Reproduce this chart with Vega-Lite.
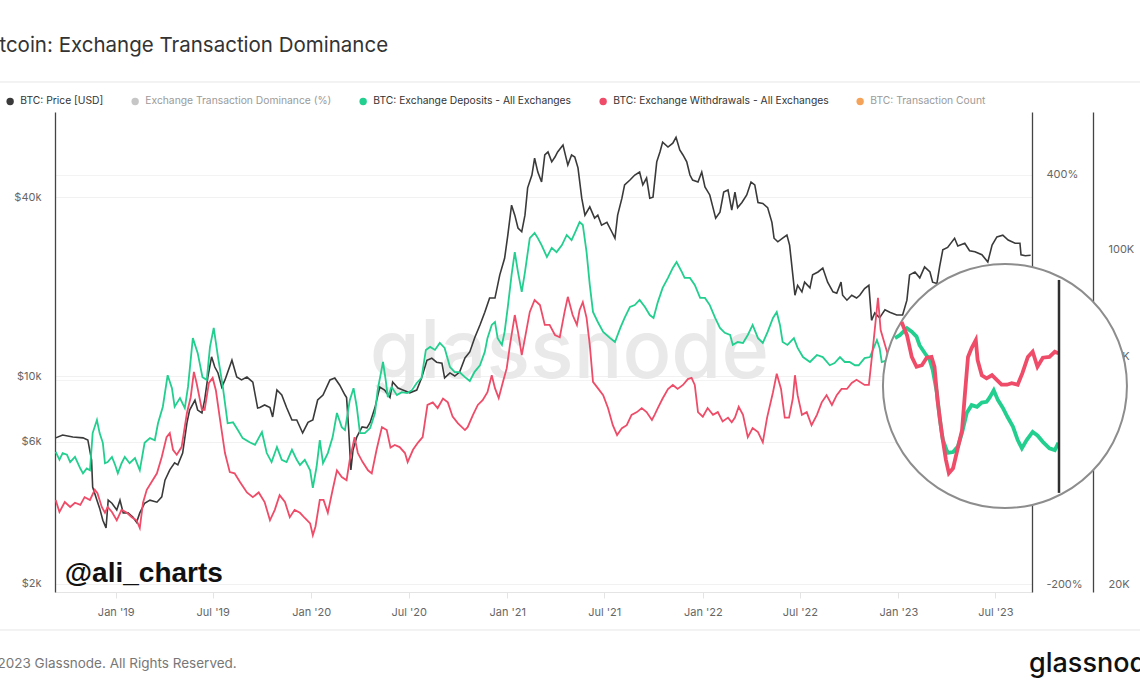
{
  "$schema": "https://vega.github.io/schema/vega-lite/v6.json",
  "width": 977,
  "height": 480,
  "autosize": "none",
  "padding": {"left": 55, "top": 112, "right": 108, "bottom": 102},
  "background": "white",
  "title": {"text": "Bitcoin: Exchange Transaction Dominance", "anchor": "start", "frame": "group", "font": "Inter", "fontSize": 20.5, "fontWeight": 400, "color": "#333333", "dx": -74, "offset": 25},
  "config": {"view": {"stroke": null}, "font": "Inter"},
  "datasets": {
    "price": [
      {"date":"2018-09-11","price":6190},{"date":"2018-09-24","price":6330},{"date":"2018-10-13","price":6230},{"date":"2018-11-01","price":6190},{"date":"2018-11-10","price":6090},{"date":"2018-11-17","price":5210},{"date":"2018-11-19","price":4230},{"date":"2018-11-27","price":3820},{"date":"2018-12-02","price":3590},{"date":"2018-12-08","price":3270},{"date":"2018-12-14","price":3080},{"date":"2018-12-18","price":3820},{"date":"2018-12-25","price":3730},{"date":"2019-01-03","price":3540},{"date":"2019-01-09","price":3820},{"date":"2019-01-15","price":3460},{"date":"2019-01-24","price":3460},{"date":"2019-02-02","price":3350},{"date":"2019-02-09","price":3220},{"date":"2019-02-15","price":3460},{"date":"2019-02-24","price":3730},{"date":"2019-03-06","price":3820},{"date":"2019-03-19","price":3760},{"date":"2019-03-28","price":3920},{"date":"2019-04-03","price":4460},{"date":"2019-04-12","price":4830},{"date":"2019-04-21","price":5100},{"date":"2019-04-27","price":5020},{"date":"2019-05-06","price":5500},{"date":"2019-05-14","price":6950},{"date":"2019-05-19","price":7680},{"date":"2019-05-29","price":8300},{"date":"2019-06-03","price":7680},{"date":"2019-06-11","price":7510},{"date":"2019-06-16","price":8300},{"date":"2019-06-22","price":9920},{"date":"2019-06-29","price":11600},{"date":"2019-07-05","price":10720},{"date":"2019-07-11","price":10240},{"date":"2019-07-18","price":9180},{"date":"2019-07-24","price":9700},{"date":"2019-08-06","price":11300},{"date":"2019-08-15","price":9920},{"date":"2019-08-24","price":9700},{"date":"2019-09-03","price":9920},{"date":"2019-09-14","price":9530},{"date":"2019-09-23","price":7800},{"date":"2019-09-27","price":7830},{"date":"2019-10-06","price":7990},{"date":"2019-10-16","price":7830},{"date":"2019-10-21","price":7280},{"date":"2019-10-29","price":8970},{"date":"2019-11-07","price":8630},{"date":"2019-11-16","price":7830},{"date":"2019-11-26","price":7110},{"date":"2019-12-05","price":7110},{"date":"2019-12-16","price":6430},{"date":"2019-12-26","price":6980},{"date":"2020-01-04","price":7110},{"date":"2020-01-13","price":8300},{"date":"2020-01-23","price":8630},{"date":"2020-02-05","price":9700},{"date":"2020-02-14","price":9850},{"date":"2020-02-23","price":9330},{"date":"2020-03-04","price":8630},{"date":"2020-03-07","price":8460},{"date":"2020-03-11","price":6580},{"date":"2020-03-15","price":4830},{"date":"2020-03-19","price":5630},{"date":"2020-03-26","price":6230},{"date":"2020-04-05","price":6740},{"date":"2020-04-14","price":6690},{"date":"2020-04-20","price":6980},{"date":"2020-04-29","price":7830},{"date":"2020-05-08","price":9180},{"date":"2020-05-17","price":8970},{"date":"2020-05-27","price":8460},{"date":"2020-06-01","price":9550},{"date":"2020-06-11","price":9110},{"date":"2020-06-20","price":8970},{"date":"2020-07-03","price":8780},{"date":"2020-07-16","price":8970},{"date":"2020-07-25","price":9850},{"date":"2020-08-04","price":11300},{"date":"2020-08-13","price":11480},{"date":"2020-08-22","price":11130},{"date":"2020-09-01","price":11050},{"date":"2020-09-06","price":9850},{"date":"2020-09-16","price":10240},{"date":"2020-09-25","price":10000},{"date":"2020-10-04","price":10310},{"date":"2020-10-14","price":11500},{"date":"2020-10-23","price":12050},{"date":"2020-11-01","price":13420},{"date":"2020-11-11","price":14850},{"date":"2020-11-20","price":16400},{"date":"2020-11-29","price":18300},{"date":"2020-12-09","price":18300},{"date":"2020-12-18","price":21900},{"date":"2020-12-27","price":24900},{"date":"2021-01-02","price":29800},{"date":"2021-01-09","price":37600},{"date":"2021-01-15","price":34800},{"date":"2021-01-21","price":31500},{"date":"2021-01-28","price":30600},{"date":"2021-02-03","price":34800},{"date":"2021-02-08","price":43000},{"date":"2021-02-16","price":47500},{"date":"2021-02-21","price":54100},{"date":"2021-02-27","price":48600},{"date":"2021-03-06","price":45000},{"date":"2021-03-12","price":55500},{"date":"2021-03-18","price":56800},{"date":"2021-03-25","price":52600},{"date":"2021-03-31","price":54600},{"date":"2021-04-05","price":56800},{"date":"2021-04-15","price":59900},{"date":"2021-04-24","price":51300},{"date":"2021-05-01","price":55500},{"date":"2021-05-07","price":54600},{"date":"2021-05-13","price":50200},{"date":"2021-05-20","price":39700},{"date":"2021-05-26","price":34800},{"date":"2021-06-04","price":37100},{"date":"2021-06-13","price":34000},{"date":"2021-06-19","price":34800},{"date":"2021-06-26","price":32200},{"date":"2021-07-06","price":32900},{"date":"2021-07-15","price":30600},{"date":"2021-07-21","price":29100},{"date":"2021-07-26","price":34800},{"date":"2021-08-03","price":39700},{"date":"2021-08-08","price":44000},{"date":"2021-08-18","price":45700},{"date":"2021-08-27","price":47500},{"date":"2021-09-05","price":48600},{"date":"2021-09-11","price":44000},{"date":"2021-09-18","price":46400},{"date":"2021-09-24","price":39700},{"date":"2021-09-30","price":40000},{"date":"2021-10-07","price":52600},{"date":"2021-10-13","price":56800},{"date":"2021-10-18","price":61300},{"date":"2021-10-28","price":59000},{"date":"2021-11-06","price":60800},{"date":"2021-11-12","price":63600},{"date":"2021-11-19","price":57700},{"date":"2021-11-25","price":55500},{"date":"2021-12-02","price":52600},{"date":"2021-12-08","price":47500},{"date":"2021-12-13","price":45700},{"date":"2021-12-23","price":45000},{"date":"2021-12-30","price":48600},{"date":"2022-01-05","price":43300},{"date":"2022-01-14","price":40700},{"date":"2022-01-20","price":36900},{"date":"2022-01-25","price":34000},{"date":"2022-02-02","price":35600},{"date":"2022-02-09","price":41600},{"date":"2022-02-17","price":42300},{"date":"2022-02-24","price":36200},{"date":"2022-03-02","price":41600},{"date":"2022-03-07","price":36900},{"date":"2022-03-15","price":38400},{"date":"2022-03-24","price":40700},{"date":"2022-04-01","price":45000},{"date":"2022-04-08","price":44000},{"date":"2022-04-14","price":38400},{"date":"2022-04-23","price":38100},{"date":"2022-05-02","price":36900},{"date":"2022-05-10","price":32900},{"date":"2022-05-14","price":29100},{"date":"2022-05-21","price":28300},{"date":"2022-05-30","price":29100},{"date":"2022-06-07","price":29800},{"date":"2022-06-12","price":27600},{"date":"2022-06-18","price":21900},{"date":"2022-06-22","price":18700},{"date":"2022-06-27","price":20200},{"date":"2022-07-05","price":19200},{"date":"2022-07-10","price":20700},{"date":"2022-07-20","price":19800},{"date":"2022-07-25","price":21900},{"date":"2022-08-04","price":22400},{"date":"2022-08-13","price":23100},{"date":"2022-08-22","price":20700},{"date":"2022-09-01","price":19200},{"date":"2022-09-08","price":19000},{"date":"2022-09-16","price":20700},{"date":"2022-09-19","price":18700},{"date":"2022-09-27","price":18000},{"date":"2022-10-06","price":18700},{"date":"2022-10-15","price":18300},{"date":"2022-10-21","price":18700},{"date":"2022-10-30","price":19700},{"date":"2022-11-07","price":20200},{"date":"2022-11-12","price":15400},{"date":"2022-11-18","price":16300},{"date":"2022-11-27","price":15700},{"date":"2022-12-07","price":16700},{"date":"2022-12-16","price":16400},{"date":"2022-12-29","price":16050},{"date":"2023-01-09","price":16050},{"date":"2023-01-17","price":18000},{"date":"2023-01-22","price":21900},{"date":"2023-02-01","price":22400},{"date":"2023-02-10","price":21400},{"date":"2023-02-19","price":23300},{"date":"2023-03-01","price":22400},{"date":"2023-03-06","price":20700},{"date":"2023-03-14","price":20500},{"date":"2023-03-19","price":23300},{"date":"2023-03-25","price":26600},{"date":"2023-04-03","price":27100},{"date":"2023-04-16","price":29100},{"date":"2023-04-22","price":27400},{"date":"2023-05-05","price":28000},{"date":"2023-05-14","price":26400},{"date":"2023-05-24","price":26200},{"date":"2023-06-06","price":25600},{"date":"2023-06-17","price":24200},{"date":"2023-06-25","price":27600},{"date":"2023-07-04","price":29400},{"date":"2023-07-15","price":29800},{"date":"2023-07-25","price":28700},{"date":"2023-08-07","price":28000},{"date":"2023-08-16","price":28000},{"date":"2023-08-18","price":25600},{"date":"2023-08-26","price":25400},{"date":"2023-09-05","price":25500}
    ],
    "deposits": [
      {"date":"2018-09-11","count":37800},{"date":"2018-09-18","count":36400},{"date":"2018-09-24","count":37600},{"date":"2018-10-02","count":37300},{"date":"2018-10-08","count":36000},{"date":"2018-10-17","count":36900},{"date":"2018-10-27","count":34900},{"date":"2018-11-01","count":34100},{"date":"2018-11-08","count":34900},{"date":"2018-11-14","count":34600},{"date":"2018-11-19","count":41400},{"date":"2018-11-27","count":44100},{"date":"2018-12-02","count":41400},{"date":"2018-12-08","count":39500},{"date":"2018-12-12","count":35800},{"date":"2018-12-17","count":36000},{"date":"2018-12-25","count":36900},{"date":"2018-12-31","count":35500},{"date":"2019-01-05","count":34100},{"date":"2019-01-12","count":35800},{"date":"2019-01-18","count":36900},{"date":"2019-01-27","count":35800},{"date":"2019-02-06","count":36700},{"date":"2019-02-15","count":34600},{"date":"2019-02-24","count":39500},{"date":"2019-03-06","count":40400},{"date":"2019-03-15","count":40000},{"date":"2019-03-21","count":43400},{"date":"2019-03-30","count":47000},{"date":"2019-04-08","count":54700},{"date":"2019-04-16","count":51400},{"date":"2019-04-21","count":47000},{"date":"2019-05-01","count":49000},{"date":"2019-05-10","count":46700},{"date":"2019-05-16","count":51700},{"date":"2019-05-25","count":65400},{"date":"2019-06-03","count":60900},{"date":"2019-06-12","count":54200},{"date":"2019-06-20","count":53500},{"date":"2019-06-26","count":62700},{"date":"2019-07-03","count":68700},{"date":"2019-07-11","count":59700},{"date":"2019-07-20","count":51700},{"date":"2019-07-29","count":43400},{"date":"2019-08-08","count":43600},{"date":"2019-08-17","count":42000},{"date":"2019-08-26","count":40400},{"date":"2019-09-08","count":39600},{"date":"2019-09-18","count":39100},{"date":"2019-10-01","count":41600},{"date":"2019-10-10","count":37600},{"date":"2019-10-19","count":36000},{"date":"2019-10-29","count":38700},{"date":"2019-11-07","count":36400},{"date":"2019-11-16","count":36000},{"date":"2019-11-26","count":38200},{"date":"2019-12-05","count":36400},{"date":"2019-12-11","count":35500},{"date":"2019-12-20","count":36400},{"date":"2019-12-30","count":34600},{"date":"2020-01-04","count":31800},{"date":"2020-01-11","count":35200},{"date":"2020-01-17","count":40000},{"date":"2020-01-23","count":35800},{"date":"2020-02-01","count":37600},{"date":"2020-02-10","count":40600},{"date":"2020-02-18","count":45600},{"date":"2020-02-27","count":42600},{"date":"2020-03-04","count":42000},{"date":"2020-03-13","count":48500},{"date":"2020-03-20","count":51400},{"date":"2020-03-26","count":47000},{"date":"2020-04-01","count":41400},{"date":"2020-04-10","count":41400},{"date":"2020-04-20","count":42400},{"date":"2020-04-29","count":45600},{"date":"2020-05-04","count":50900},{"date":"2020-05-14","count":58300},{"date":"2020-05-19","count":53500},{"date":"2020-05-23","count":49200},{"date":"2020-05-30","count":51700},{"date":"2020-06-09","count":49700},{"date":"2020-06-18","count":50400},{"date":"2020-06-28","count":50200},{"date":"2020-07-07","count":50900},{"date":"2020-07-16","count":52700},{"date":"2020-07-25","count":54000},{"date":"2020-08-02","count":61800},{"date":"2020-08-10","count":62700},{"date":"2020-08-19","count":61800},{"date":"2020-08-28","count":63900},{"date":"2020-09-06","count":62400},{"date":"2020-09-16","count":56900},{"date":"2020-09-25","count":55500},{"date":"2020-10-04","count":55500},{"date":"2020-10-14","count":54200},{"date":"2020-10-23","count":53200},{"date":"2020-11-01","count":55600},{"date":"2020-11-11","count":57400},{"date":"2020-11-20","count":61200},{"date":"2020-11-25","count":65400},{"date":"2020-12-03","count":69700},{"date":"2020-12-09","count":70700},{"date":"2020-12-14","count":65400},{"date":"2020-12-22","count":63300},{"date":"2020-12-27","count":67400},{"date":"2021-01-02","count":76000},{"date":"2021-01-09","count":88700},{"date":"2021-01-15","count":99000},{"date":"2021-01-21","count":89900},{"date":"2021-01-28","count":81700},{"date":"2021-02-03","count":89900},{"date":"2021-02-12","count":105900},{"date":"2021-02-21","count":108500},{"date":"2021-02-27","count":105900},{"date":"2021-03-06","count":102400},{"date":"2021-03-16","count":96700},{"date":"2021-03-25","count":101000},{"date":"2021-04-03","count":99000},{"date":"2021-04-13","count":102400},{"date":"2021-04-22","count":107500},{"date":"2021-05-01","count":104900},{"date":"2021-05-07","count":108500},{"date":"2021-05-16","count":114400},{"date":"2021-05-22","count":112800},{"date":"2021-05-29","count":99000},{"date":"2021-06-04","count":84500},{"date":"2021-06-10","count":74200},{"date":"2021-06-19","count":70700},{"date":"2021-06-29","count":67400},{"date":"2021-07-12","count":65400},{"date":"2021-07-21","count":64200},{"date":"2021-07-31","count":68700},{"date":"2021-08-08","count":72100},{"date":"2021-08-18","count":76000},{"date":"2021-08-27","count":76700},{"date":"2021-09-05","count":78600},{"date":"2021-09-15","count":76000},{"date":"2021-09-24","count":73100},{"date":"2021-10-01","count":72100},{"date":"2021-10-09","count":77800},{"date":"2021-10-18","count":83300},{"date":"2021-10-28","count":87400},{"date":"2021-11-06","count":91700},{"date":"2021-11-13","count":94400},{"date":"2021-11-23","count":89900},{"date":"2021-11-28","count":87400},{"date":"2021-12-08","count":87400},{"date":"2021-12-17","count":84500},{"date":"2021-12-27","count":79400},{"date":"2022-01-05","count":79400},{"date":"2022-01-14","count":76700},{"date":"2022-01-24","count":72100},{"date":"2022-02-02","count":68700},{"date":"2022-02-11","count":67100},{"date":"2022-02-21","count":66400},{"date":"2022-02-26","count":63300},{"date":"2022-03-07","count":64200},{"date":"2022-03-17","count":63900},{"date":"2022-03-26","count":66400},{"date":"2022-04-04","count":69700},{"date":"2022-04-14","count":65400},{"date":"2022-04-23","count":63900},{"date":"2022-05-02","count":67400},{"date":"2022-05-12","count":72100},{"date":"2022-05-19","count":74200},{"date":"2022-05-25","count":69700},{"date":"2022-05-30","count":64200},{"date":"2022-06-08","count":63300},{"date":"2022-06-20","count":65400},{"date":"2022-06-27","count":62400},{"date":"2022-07-07","count":59700},{"date":"2022-07-20","count":58300},{"date":"2022-08-02","count":60300},{"date":"2022-08-13","count":59700},{"date":"2022-08-26","count":57400},{"date":"2022-09-04","count":58000},{"date":"2022-09-14","count":59700},{"date":"2022-09-23","count":58300},{"date":"2022-10-02","count":58300},{"date":"2022-10-12","count":57400},{"date":"2022-10-19","count":57400},{"date":"2022-10-30","count":59400},{"date":"2022-11-09","count":59700},{"date":"2022-11-22","count":64800},{"date":"2022-11-27","count":62400},{"date":"2022-12-01","count":58300},{"date":"2022-12-09","count":58700},{"date":"2022-12-21","count":59700},{"date":"2022-12-29","count":59200},{"date":"2023-01-06","count":58500},{"date":"2023-01-11","count":57300},{"date":"2023-01-20","count":56200},{"date":"2023-01-28","count":55300},{"date":"2023-02-02","count":54000},{"date":"2023-02-09","count":51100},{"date":"2023-02-14","count":47900},{"date":"2023-02-19","count":45600},{"date":"2023-02-27","count":44200},{"date":"2023-03-08","count":44300},{"date":"2023-03-16","count":44900},{"date":"2023-03-23","count":46400},{"date":"2023-03-31","count":48700},{"date":"2023-04-08","count":49600},{"date":"2023-04-17","count":49400},{"date":"2023-04-25","count":49900},{"date":"2023-05-03","count":50000},{"date":"2023-05-08","count":50500},{"date":"2023-05-15","count":51400},{"date":"2023-05-22","count":50200},{"date":"2023-05-30","count":49300},{"date":"2023-06-07","count":48200},{"date":"2023-06-16","count":47100},{"date":"2023-06-24","count":45600},{"date":"2023-07-01","count":44700},{"date":"2023-07-09","count":45600},{"date":"2023-07-19","count":46500},{"date":"2023-07-27","count":46100},{"date":"2023-08-05","count":45400},{"date":"2023-08-16","count":44700},{"date":"2023-08-25","count":44500},{"date":"2023-08-31","count":45300}
    ],
    "withdrawals": [
      {"date":"2018-09-11","count":30000},{"date":"2018-09-18","count":28300},{"date":"2018-09-28","count":29700},{"date":"2018-10-08","count":29000},{"date":"2018-10-17","count":29600},{"date":"2018-10-27","count":29300},{"date":"2018-11-04","count":30400},{"date":"2018-11-14","count":30000},{"date":"2018-11-23","count":31500},{"date":"2018-11-28","count":31000},{"date":"2018-12-06","count":29000},{"date":"2018-12-12","count":28200},{"date":"2018-12-17","count":29000},{"date":"2018-12-25","count":28300},{"date":"2019-01-03","count":27200},{"date":"2019-01-12","count":28600},{"date":"2019-01-22","count":28200},{"date":"2019-01-31","count":27600},{"date":"2019-02-09","count":27200},{"date":"2019-02-15","count":26200},{"date":"2019-02-21","count":29600},{"date":"2019-02-28","count":31500},{"date":"2019-03-09","count":32700},{"date":"2019-03-19","count":34100},{"date":"2019-03-28","count":36900},{"date":"2019-04-06","count":40600},{"date":"2019-04-12","count":41400},{"date":"2019-04-18","count":38200},{"date":"2019-04-25","count":37300},{"date":"2019-05-04","count":38700},{"date":"2019-05-14","count":45600},{"date":"2019-05-21","count":49200},{"date":"2019-05-27","count":55600},{"date":"2019-06-01","count":52700},{"date":"2019-06-11","count":46300},{"date":"2019-06-16","count":46300},{"date":"2019-06-24","count":52700},{"date":"2019-07-01","count":54000},{"date":"2019-07-07","count":50900},{"date":"2019-07-14","count":44800},{"date":"2019-07-24","count":37600},{"date":"2019-08-02","count":34300},{"date":"2019-08-11","count":34100},{"date":"2019-08-21","count":32700},{"date":"2019-09-03","count":31100},{"date":"2019-09-14","count":30400},{"date":"2019-09-25","count":31100},{"date":"2019-10-06","count":29700},{"date":"2019-10-16","count":27200},{"date":"2019-10-25","count":28600},{"date":"2019-11-03","count":30700},{"date":"2019-11-13","count":29700},{"date":"2019-11-22","count":27600},{"date":"2019-12-01","count":28600},{"date":"2019-12-11","count":28200},{"date":"2019-12-20","count":27500},{"date":"2019-12-30","count":26800},{"date":"2020-01-04","count":25300},{"date":"2020-01-09","count":26400},{"date":"2020-01-17","count":30000},{"date":"2020-01-24","count":30000},{"date":"2020-02-01","count":28200},{"date":"2020-02-10","count":31500},{"date":"2020-02-18","count":34600},{"date":"2020-02-27","count":33500},{"date":"2020-03-07","count":33000},{"date":"2020-03-13","count":36400},{"date":"2020-03-22","count":40600},{"date":"2020-03-28","count":37600},{"date":"2020-04-06","count":36000},{"date":"2020-04-16","count":34600},{"date":"2020-04-23","count":34100},{"date":"2020-05-02","count":38200},{"date":"2020-05-12","count":42600},{"date":"2020-05-21","count":42000},{"date":"2020-05-28","count":38600},{"date":"2020-06-05","count":39100},{"date":"2020-06-14","count":38700},{"date":"2020-06-24","count":37600},{"date":"2020-06-29","count":36000},{"date":"2020-07-09","count":38200},{"date":"2020-07-18","count":39500},{"date":"2020-07-27","count":40600},{"date":"2020-08-05","count":47400},{"date":"2020-08-15","count":48000},{"date":"2020-08-24","count":46700},{"date":"2020-09-03","count":48900},{"date":"2020-09-12","count":48000},{"date":"2020-09-21","count":44800},{"date":"2020-10-01","count":43400},{"date":"2020-10-14","count":42000},{"date":"2020-10-19","count":42600},{"date":"2020-10-29","count":45200},{"date":"2020-11-07","count":47400},{"date":"2020-11-16","count":48500},{"date":"2020-11-25","count":50400},{"date":"2020-12-03","count":54700},{"date":"2020-12-09","count":51400},{"date":"2020-12-16","count":49000},{"date":"2020-12-24","count":53000},{"date":"2020-12-31","count":56600},{"date":"2021-01-06","count":63300},{"date":"2021-01-15","count":73100},{"date":"2021-01-21","count":67400},{"date":"2021-01-28","count":60300},{"date":"2021-02-03","count":65400},{"date":"2021-02-12","count":74200},{"date":"2021-02-21","count":78600},{"date":"2021-03-03","count":76700},{"date":"2021-03-12","count":69700},{"date":"2021-03-21","count":69700},{"date":"2021-03-31","count":66400},{"date":"2021-04-09","count":65700},{"date":"2021-04-18","count":74200},{"date":"2021-04-24","count":79800},{"date":"2021-05-03","count":73100},{"date":"2021-05-11","count":69700},{"date":"2021-05-16","count":74900},{"date":"2021-05-22","count":77800},{"date":"2021-05-29","count":72100},{"date":"2021-06-04","count":63300},{"date":"2021-06-10","count":53000},{"date":"2021-06-19","count":51400},{"date":"2021-06-29","count":49700},{"date":"2021-07-08","count":46700},{"date":"2021-07-17","count":43000},{"date":"2021-07-25","count":41000},{"date":"2021-08-03","count":42400},{"date":"2021-08-12","count":43000},{"date":"2021-08-21","count":45200},{"date":"2021-08-31","count":45800},{"date":"2021-09-09","count":46700},{"date":"2021-09-18","count":45800},{"date":"2021-09-28","count":44100},{"date":"2021-10-03","count":45200},{"date":"2021-10-09","count":46700},{"date":"2021-10-18","count":48900},{"date":"2021-10-28","count":51200},{"date":"2021-11-06","count":52200},{"date":"2021-11-15","count":51200},{"date":"2021-11-25","count":52200},{"date":"2021-12-04","count":53700},{"date":"2021-12-11","count":54000},{"date":"2021-12-17","count":52200},{"date":"2021-12-23","count":45800},{"date":"2022-01-01","count":44800},{"date":"2022-01-10","count":46700},{"date":"2022-01-20","count":45200},{"date":"2022-01-29","count":45800},{"date":"2022-02-07","count":43800},{"date":"2022-02-17","count":44600},{"date":"2022-02-24","count":43600},{"date":"2022-03-02","count":44600},{"date":"2022-03-09","count":47000},{"date":"2022-03-17","count":45200},{"date":"2022-03-26","count":40600},{"date":"2022-04-04","count":42400},{"date":"2022-04-14","count":41600},{"date":"2022-04-23","count":39600},{"date":"2022-05-01","count":44600},{"date":"2022-05-12","count":50400},{"date":"2022-05-19","count":55100},{"date":"2022-05-27","count":51200},{"date":"2022-06-03","count":44600},{"date":"2022-06-11","count":44600},{"date":"2022-06-18","count":48900},{"date":"2022-06-22","count":54700},{"date":"2022-06-27","count":49700},{"date":"2022-07-05","count":45200},{"date":"2022-07-14","count":45800},{"date":"2022-07-23","count":43000},{"date":"2022-08-02","count":45200},{"date":"2022-08-11","count":48000},{"date":"2022-08-20","count":49700},{"date":"2022-08-30","count":47400},{"date":"2022-09-08","count":49700},{"date":"2022-09-17","count":51200},{"date":"2022-09-27","count":51200},{"date":"2022-10-06","count":52700},{"date":"2022-10-15","count":53500},{"date":"2022-10-30","count":52200},{"date":"2022-11-07","count":52200},{"date":"2022-11-16","count":64800},{"date":"2022-11-24","count":79400},{"date":"2022-11-29","count":68000},{"date":"2022-12-12","count":60600},{"date":"2022-12-21","count":58700},{"date":"2022-12-29","count":55700},{"date":"2023-01-06","count":54400},{"date":"2023-01-15","count":54600},{"date":"2023-01-23","count":55600},{"date":"2023-01-31","count":55700},{"date":"2023-02-05","count":54400},{"date":"2023-02-10","count":50200},{"date":"2023-02-17","count":46400},{"date":"2023-02-24","count":43500},{"date":"2023-03-01","count":42100},{"date":"2023-03-08","count":42600},{"date":"2023-03-14","count":44200},{"date":"2023-03-23","count":46700},{"date":"2023-03-28","count":51100},{"date":"2023-04-02","count":55700},{"date":"2023-04-08","count":56900},{"date":"2023-04-15","count":58000},{"date":"2023-04-18","count":55300},{"date":"2023-04-25","count":53300},{"date":"2023-05-03","count":52900},{"date":"2023-05-12","count":53300},{"date":"2023-05-20","count":52700},{"date":"2023-05-28","count":52100},{"date":"2023-06-06","count":52100},{"date":"2023-06-14","count":52300},{"date":"2023-06-24","count":52100},{"date":"2023-07-02","count":53600},{"date":"2023-07-11","count":55700},{"date":"2023-07-19","count":56400},{"date":"2023-07-27","count":54400},{"date":"2023-08-05","count":55600},{"date":"2023-08-16","count":55700},{"date":"2023-08-25","count":56400},{"date":"2023-08-31","count":56200}
    ]
  },
  "layer": [
    {
      "data": {"values": []},
      "mark": {"type": "line"},
      "encoding": {
        "x": {"field": "date", "type": "temporal", "scale": {"domain": [{"year": 2018, "month": 9, "date": 9, "hours": 17, "utc": true}, {"year": 2023, "month": 9, "date": 7, "hours": 12, "utc": true}]}, "axis": null},
        "y": {"field": "dominance", "type": "quantitative", "scale": {"domain": [-211.7, 492.4], "nice": false, "zero": false}, "axis": {"orient": "right", "title": null, "values": [-200, 100, 400], "labelExpr": "datum.value + '%'", "ticks": false, "labelPadding": 14, "labelAlign": "left", "labelFont": "Inter", "labelFontSize": 11, "labelColor": "#666666", "domain": true, "domainColor": "#444444", "domainWidth": 1.3, "grid": true, "gridColor": "#f3f3f3"}},
        "color": {"datum": "Exchange Transaction Dominance (%)", "type": "nominal",
          "scale": {"domain": ["BTC: Price [USD]", "Exchange Transaction Dominance (%)", "BTC: Exchange Deposits - All Exchanges", "BTC: Exchange Withdrawals - All Exchanges", "BTC: Transaction Count"], "range": ["#3a3a3a", "#c6c6c6", "#22cf8f", "#ee4c68", "#f6a35a"]},
          "legend": {"title": null, "orient": "none", "legendX": -50, "legendY": -16, "direction": "horizontal", "symbolType": "circle", "symbolSize": 55, "symbolStrokeWidth": 0, "labelFont": "Inter", "labelFontSize": 10.3, "labelColor": "#333333", "labelOffset": 5, "columnPadding": 26, "labelLimit": 400,
            "encode": {"symbols": {"update": {"fill": {"scale": "color", "field": "value"}, "opacity": {"value": 1}}}, "labels": {"update": {"fill": {"signal": "(datum.value == 'Exchange Transaction Dominance (%)' || datum.value == 'BTC: Transaction Count') ? '#9a9a9a' : '#333333'"}}}}}}
      }
    },
    {
      "data": {"values": [{}]},
      "mark": {"type": "text", "text": "glassnode", "font": "Inter", "fontSize": 81, "fontWeight": 500, "color": "#e9e9e9", "align": "center", "baseline": "alphabetic"},
      "encoding": {
        "x": {"datum": {"year": 2021, "month": 4, "date": 27, "utc": true}, "type": "temporal", "scale": {"domain": [{"year": 2018, "month": 9, "date": 9, "hours": 17, "utc": true}, {"year": 2023, "month": 9, "date": 7, "hours": 12, "utc": true}]}, "axis": null},
        "y": {"datum": 9850, "type": "quantitative", "scale": {"type": "log", "domain": [1874, 77426], "nice": false}, "axis": null}
      }
    },
    {
      "data": {"name": "price"},
      "mark": {"type": "line", "strokeWidth": 1.6},
      "encoding": {
        "x": {"field": "date", "type": "temporal", "scale": {"domain": [{"year": 2018, "month": 9, "date": 9, "hours": 17, "utc": true}, {"year": 2023, "month": 9, "date": 7, "hours": 12, "utc": true}]},
          "axis": {"title": null, "format": "%b '%y", "tickCount": {"interval": "month", "step": 6}, "labelFont": "Inter", "labelFontSize": 11, "labelColor": "#666666", "domainColor": "#e4e4e4", "tickColor": "#e4e4e4", "tickSize": 6, "labelPadding": 8, "grid": false, "labelFlush": false}},
        "y": {"field": "price", "type": "quantitative", "scale": {"type": "log", "domain": [1874, 77426], "nice": false},
          "axis": {"orient": "left", "title": null, "values": [2000, 6000, 10000, 40000], "format": "$~s", "ticks": false, "labelPadding": 14, "labelFont": "Inter", "labelFontSize": 11, "labelColor": "#666666", "domainColor": "#444444", "domainWidth": 1.3, "grid": true, "gridColor": "#f1f1f1"}},
        "color": {"datum": "BTC: Price [USD]", "type": "nominal"}
      }
    },
    {
      "data": {"name": "deposits"},
      "mark": {"type": "line", "strokeWidth": 1.8},
      "encoding": {
        "x": {"field": "date", "type": "temporal", "scale": {"domain": [{"year": 2018, "month": 9, "date": 9, "hours": 17, "utc": true}, {"year": 2023, "month": 9, "date": 7, "hours": 12, "utc": true}]}, "axis": null},
        "y": {"field": "count", "type": "quantitative", "scale": {"type": "log", "domain": [19253, 194400], "nice": false},
          "axis": {"orient": "right", "offset": 61, "title": null, "values": [20000, 60000, 100000], "labelExpr": "format(datum.value / 1000, 'd') + 'K'", "ticks": false, "labelPadding": 15, "labelAlign": "left", "labelFont": "Inter", "labelFontSize": 11, "labelColor": "#666666", "domainColor": "#444444", "domainWidth": 1.3, "grid": false}},
        "color": {"datum": "BTC: Exchange Deposits - All Exchanges", "type": "nominal"}
      }
    },
    {
      "data": {"name": "withdrawals"},
      "mark": {"type": "line", "strokeWidth": 1.8},
      "encoding": {
        "x": {"field": "date", "type": "temporal", "scale": {"domain": [{"year": 2018, "month": 9, "date": 9, "hours": 17, "utc": true}, {"year": 2023, "month": 9, "date": 7, "hours": 12, "utc": true}]}, "axis": null},
        "y": {"field": "count", "type": "quantitative", "scale": {"type": "log", "domain": [19253, 194400], "nice": false}, "axis": null},
        "color": {"datum": "BTC: Exchange Withdrawals - All Exchanges", "type": "nominal"}
      }
    },
    {
      "data": {"values": [{}]},
      "mark": {"type": "text", "text": "@ali_charts", "font": "Liberation Sans", "fontSize": 28, "fontWeight": "bold", "color": "#111111", "align": "left", "baseline": "alphabetic"},
      "encoding": {
        "x": {"datum": {"year": 2018, "month": 9, "date": 28, "utc": true}, "type": "temporal", "scale": {"domain": [{"year": 2018, "month": 9, "date": 9, "hours": 17, "utc": true}, {"year": 2023, "month": 9, "date": 7, "hours": 12, "utc": true}]}, "axis": null},
        "y": {"datum": 2025, "type": "quantitative", "scale": {"type": "log", "domain": [1874, 77426], "nice": false}, "axis": null}
      }
    },
    {
      "data": {"values": [{}]},
      "mark": {"type": "point", "shape": "circle", "size": 59536, "filled": true, "fill": "#ffffff", "fillOpacity": 1, "opacity": 1, "stroke": "#8d8d8d", "strokeWidth": 2},
      "encoding": {
        "x": {"datum": {"year": 2023, "month": 7, "date": 19, "utc": true}, "type": "temporal", "scale": {"domain": [{"year": 2018, "month": 9, "date": 9, "hours": 17, "utc": true}, {"year": 2023, "month": 9, "date": 7, "hours": 12, "utc": true}]}, "axis": null},
        "y": {"datum": 9254, "type": "quantitative", "scale": {"type": "log", "domain": [1874, 77426], "nice": false}, "axis": null}
      }
    },
    {
      "data": {"name": "deposits"},
      "transform": [{"filter": "time(datum.date) >= time('2022-12-01')"}],
      "mark": {"type": "line", "strokeWidth": 3.8},
      "encoding": {
        "x": {"field": "date", "type": "temporal", "scale": {"domain": [{"year": 2019, "month": 1, "date": 27, "hours": 14, "minutes": 24, "utc": true}, {"year": 2023, "month": 7, "date": 17, "hours": 21, "minutes": 36, "utc": true}]}, "axis": null},
        "y": {"field": "count", "type": "quantitative", "scale": {"type": "log", "domain": [31623, 100480], "nice": false}, "axis": null},
        "color": {"datum": "BTC: Exchange Deposits - All Exchanges", "type": "nominal"}
      }
    },
    {
      "data": {"name": "withdrawals"},
      "transform": [{"filter": "time(datum.date) >= time('2022-12-12')"}],
      "mark": {"type": "line", "strokeWidth": 3.8},
      "encoding": {
        "x": {"field": "date", "type": "temporal", "scale": {"domain": [{"year": 2019, "month": 1, "date": 27, "hours": 14, "minutes": 24, "utc": true}, {"year": 2023, "month": 7, "date": 17, "hours": 21, "minutes": 36, "utc": true}]}, "axis": null},
        "y": {"field": "count", "type": "quantitative", "scale": {"type": "log", "domain": [31623, 100480], "nice": false}, "axis": null},
        "color": {"datum": "BTC: Exchange Withdrawals - All Exchanges", "type": "nominal"}
      }
    },
    {
      "data": {"values": [{}]},
      "mark": {"type": "rule", "color": "#2f2f2f", "strokeWidth": 2.5},
      "encoding": {
        "x": {"datum": {"year": 2023, "month": 9, "date": 1, "utc": true}, "type": "temporal", "scale": {"domain": [{"year": 2019, "month": 1, "date": 27, "hours": 14, "minutes": 24, "utc": true}, {"year": 2023, "month": 7, "date": 17, "hours": 21, "minutes": 36, "utc": true}]}, "axis": null},
        "y": {"datum": 67050, "type": "quantitative", "scale": {"type": "log", "domain": [31623, 100480], "nice": false}, "axis": null},
        "y2": {"datum": 40150}
      }
    },
    {
      "data": {"values": [{}]},
      "mark": {"type": "text", "text": "© 2023 Glassnode. All Rights Reserved.", "font": "Inter", "fontSize": 13.5, "color": "#777777", "align": "right", "baseline": "alphabetic"},
      "encoding": {
        "x": {"datum": {"year": 2019, "month": 8, "date": 15, "utc": true}, "type": "temporal", "scale": {"domain": [{"year": 2018, "month": 9, "date": 9, "hours": 17, "utc": true}, {"year": 2023, "month": 9, "date": 7, "hours": 12, "utc": true}]}, "axis": null},
        "y": {"datum": 1039, "type": "quantitative", "scale": {"type": "log", "domain": [1874, 77426], "nice": false}, "axis": null}
      }
    },
    {
      "data": {"values": [{}]},
      "mark": {"type": "text", "text": "glassnode", "font": "Inter", "fontSize": 27, "fontWeight": 500, "color": "#111111", "align": "left", "baseline": "alphabetic"},
      "encoding": {
        "x": {"datum": {"year": 2023, "month": 9, "date": 1, "hours": 22, "utc": true}, "type": "temporal", "scale": {"domain": [{"year": 2018, "month": 9, "date": 9, "hours": 17, "utc": true}, {"year": 2023, "month": 9, "date": 7, "hours": 12, "utc": true}]}, "axis": null},
        "y": {"datum": 1008, "type": "quantitative", "scale": {"type": "log", "domain": [1874, 77426], "nice": false}, "axis": null}
      }
    },
    {
      "data": {"values": [{}]},
      "mark": {"type": "rule", "color": "#e6e6e6", "strokeWidth": 1},
      "encoding": {
        "x": {"datum": {"year": 2018, "month": 5, "date": 30, "utc": true}, "type": "temporal", "scale": {"domain": [{"year": 2018, "month": 9, "date": 9, "hours": 17, "utc": true}, {"year": 2023, "month": 9, "date": 7, "hours": 12, "utc": true}]}, "axis": null},
        "x2": {"datum": {"year": 2024, "month": 3, "date": 27, "utc": true}},
        "y": {"datum": 97700, "type": "quantitative", "scale": {"type": "log", "domain": [1874, 77426], "nice": false}, "axis": null}
      }
    },
    {
      "data": {"values": [{}]},
      "mark": {"type": "rule", "color": "#e6e6e6", "strokeWidth": 1},
      "encoding": {
        "x": {"datum": {"year": 2018, "month": 5, "date": 30, "utc": true}, "type": "temporal", "scale": {"domain": [{"year": 2018, "month": 9, "date": 9, "hours": 17, "utc": true}, {"year": 2023, "month": 9, "date": 7, "hours": 12, "utc": true}]}, "axis": null},
        "x2": {"datum": {"year": 2024, "month": 3, "date": 27, "utc": true}},
        "y": {"datum": 1396, "type": "quantitative", "scale": {"type": "log", "domain": [1874, 77426], "nice": false}, "axis": null}
      }
    }
  ],
  "resolve": {"scale": {"x": "independent", "y": "independent"}}
}
